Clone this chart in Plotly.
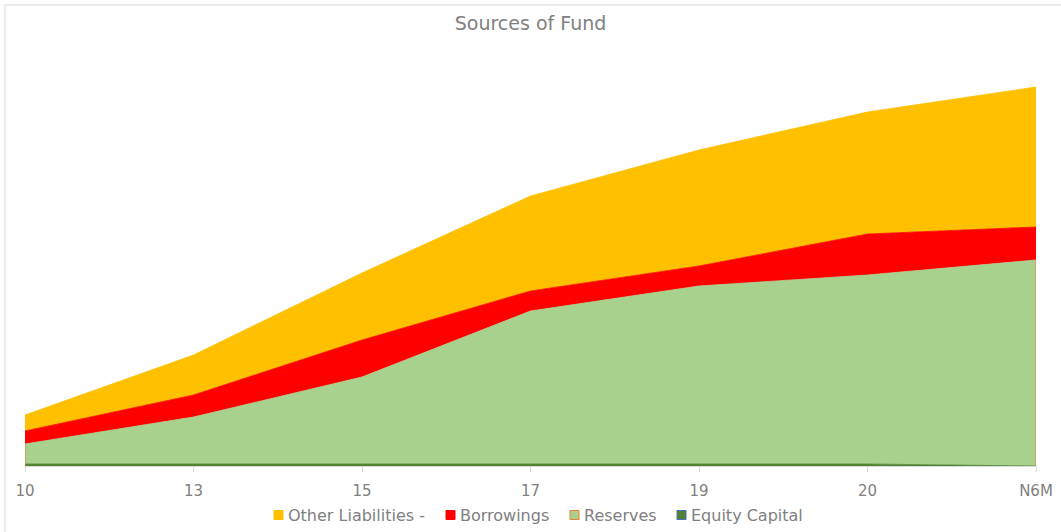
import plotly.graph_objects as go

# Financial years and balance-sheet components (stacked)
years = ["10", "13", "15", "17", "19", "20", "N6M"]
equity_capital = [20, 20, 20, 20, 20, 20, 0]
reserves = [200, 470, 870, 1530, 1780, 1890, 2060]
borrowings = [130, 220, 370, 200, 200, 410, 330]
other_liabilities = [160, 400, 670, 950, 1160, 1220, 1400]

x_idx = list(range(len(years)))

# name, values, fill colour, outline colour, legend-key outline
series = [
    ("Equity Capital", equity_capital, "#548235", "#548235", "#4472c4"),
    ("Reserves", reserves, "#a9d18e", "#a9d18e", "#ed7d31"),
    ("Borrowings", borrowings, "#ff0000", "#ff0000", "#ff0000"),
    ("Other Liabilities -", other_liabilities, "#ffc000", "#ffc000", "#ffc000"),
]

W, H = 1061, 532
L, R, T, B = 25, 25, 40, 66
PW, PH = W - L - R, H - T - B


def px_x(px):
    return (px - L) / PW


def px_y(py):
    return (H - B - py) / PH


fig = go.Figure()
for name, vals, fill, edge, _ in series:
    fig.add_trace(go.Scatter(
        x=x_idx, y=vals, name=name, mode="lines",
        stackgroup="funds", fillcolor=fill,
        line=dict(color=edge, width=0.8),
        showlegend=False,
    ))

shapes = [
    # chart frame (top and left edges)
    dict(type="line", xref="paper", yref="paper",
         x0=px_x(5), x1=px_x(1100), y0=px_y(5), y1=px_y(5),
         line=dict(color="#d9d9d9", width=1)),
    dict(type="line", xref="paper", yref="paper",
         x0=px_x(5), x1=px_x(5), y0=px_y(5), y1=px_y(560),
         line=dict(color="#d9d9d9", width=1)),
]

# orange side edges of the Reserves area
res_top_first = equity_capital[0] + reserves[0]
res_top_last = equity_capital[-1] + reserves[-1]
for xi, top in ((x_idx[0], res_top_first), (x_idx[-1], res_top_last)):
    shapes.append(dict(type="line", xref="x", yref="y",
                       x0=xi, x1=xi, y0=0, y1=top,
                       line=dict(color="#ed7d31", width=1)))

# legend: square keys followed by labels
legend_order = list(reversed(series))
key_left = [274, 446, 570, 677]
annotations = []
for (name, _, fill, _, key_edge), kx in zip(legend_order, key_left):
    shapes.append(dict(type="rect", xref="paper", yref="paper",
                       x0=px_x(kx), x1=px_x(kx + 9),
                       y0=px_y(510.5), y1=px_y(519.5),
                       fillcolor=fill, line=dict(color=key_edge, width=1)))
    annotations.append(dict(text=name, xref="paper", yref="paper",
                            x=px_x(kx + 12), y=px_y(515),
                            xanchor="left", yanchor="middle", showarrow=False,
                            font=dict(size=16, color="#808080")))

fig.update_layout(
    width=W, height=H,
    paper_bgcolor="white", plot_bgcolor="white",
    margin=dict(l=L, r=R, t=T, b=B, autoexpand=False),
    font=dict(family="DejaVu Sans, Verdana, sans-serif", color="#808080", size=15),
    title=dict(text="Sources of Fund", x=0.5, xanchor="center",
               y=1 - 23 / H, yanchor="middle",
               font=dict(size=19, color="#808080")),
    showlegend=False,
    xaxis=dict(
        tickmode="array", tickvals=x_idx, ticktext=years,
        range=[0, len(years) - 1], showgrid=False, zeroline=False,
        showline=True, linecolor="#d9d9d9", linewidth=1,
        ticks="outside", ticklen=5, tickcolor="#d9d9d9",
        ticklabelstandoff=6,
        tickfont=dict(size=15, color="#808080"),
    ),
    yaxis=dict(range=[0, 4260], visible=False, showgrid=False, zeroline=False),
    shapes=shapes,
    annotations=annotations,
)

fig.write_html("out.html")
